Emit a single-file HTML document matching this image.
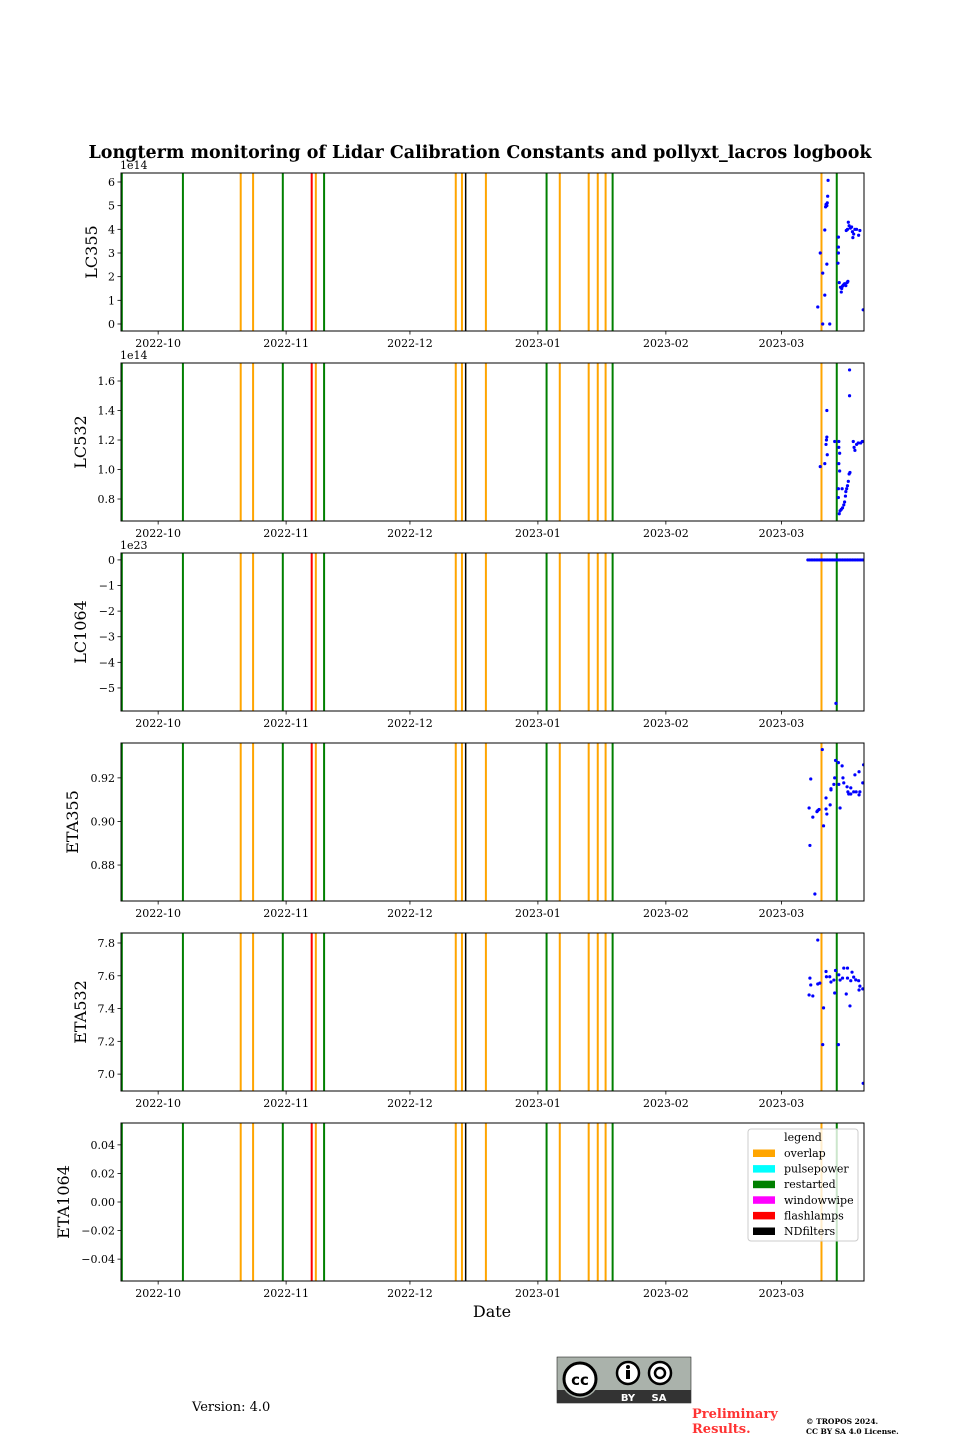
<!DOCTYPE html>
<html><head><meta charset="utf-8"><style>
html,body{margin:0;padding:0;background:#fff;}
svg text{font-family:"DejaVu Serif","Liberation Serif",serif;}
</style></head><body>
<svg id="fig" width="960" height="1440" viewBox="0 0 960 1440" xmlns="http://www.w3.org/2000/svg">
<text x="480" y="158" text-anchor="middle" font-size="17.5" font-weight="bold">Longterm monitoring of Lidar Calibration Constants and pollyxt_lacros logbook</text>
<text x="492" y="1317" text-anchor="middle" font-size="16">Date</text>
<text x="192" y="1411" font-size="13">Version: 4.0</text>
<g>
<rect x="557" y="1357" width="134" height="46" fill="#aab2ab" stroke="#000" stroke-width="0.5"/>
<rect x="557" y="1390" width="134" height="13" fill="#333"/>
<circle cx="580" cy="1379" r="19" fill="#aab2ab"/>
<circle cx="580" cy="1379" r="16" fill="#fff" stroke="#000" stroke-width="3"/>
<text x="580" y="1385" text-anchor="middle" font-size="15" font-weight="bold" style="font-family:'DejaVu Sans',sans-serif">cc</text>
<circle cx="628" cy="1373" r="11" fill="#fff" stroke="#000" stroke-width="2.5"/>
<circle cx="628" cy="1367" r="2" fill="#000"/><rect x="626" y="1370" width="4" height="9" fill="#000"/>
<circle cx="660" cy="1373" r="11" fill="#fff" stroke="#000" stroke-width="2.5"/>
<circle cx="660" cy="1373" r="5" fill="none" stroke="#000" stroke-width="2.5"/>
<text x="628" y="1401" text-anchor="middle" font-size="10" font-weight="bold" fill="#fff" style="font-family:'DejaVu Sans',sans-serif">BY</text>
<text x="659" y="1401" text-anchor="middle" font-size="10" font-weight="bold" fill="#fff" style="font-family:'DejaVu Sans',sans-serif">SA</text>
</g>
<text font-size="13" font-weight="bold" fill="#ff3333"><tspan x="692" y="1418">Preliminary</tspan><tspan x="692" y="1433">Results.</tspan></text>
<text font-size="7.5" font-weight="bold"><tspan x="806" y="1424">© TROPOS 2024.</tspan><tspan x="806" y="1434">CC BY SA 4.0 License.</tspan></text>
<g id="panels"></g>
</svg>
<script>
// days since 2022-09-22
const xDomain = [0, 180];
const monthTickDays = [9, 40, 70, 101, 132, 160];
const monthTickLabels = ["2022-10","2022-11","2022-12","2023-01","2023-02","2023-03"];
const overlapDays = [29, 32, 47.2, 81.1, 82.6, 88.4, 106.3, 113.3, 115.5, 117.4, 169.7];
const restartedDays = [0.2, 15, 39.2, 49.2, 103.1, 119.1, 173.4];
const flashlampDays = [46.2];
const ndfilterDays = [83.5];
const legendNames = ["overlap","pulsepower","restarted","windowwipe","flashlamps","NDfilters"];
const legendColors = ["orange","cyan","green","magenta","red","black"];

const lc355Days = [171.3,171.2,170.8,171,171.1,170.7,170.5,169.4,171,170,170.5,168.8,170,171.7,173.8,173.8,173.8,173.7,174,174.3,174.5,174.8,175,175.3,175.6,175.9,176.1,174.6,175.7,176.2,176.4,176.7,177,177.2,177.3,177.5,177.8,178.2,178.7,179,176,179.8];
const lc355Vals = [6.07,5.4,5.05,5.0,5.12,4.95,3.97,3.0,2.53,2.15,1.22,0.72,0,0,3.67,3.25,3.0,2.57,1.75,1.55,1.35,1.6,1.65,1.7,1.62,1.75,1.8,1.5,3.95,4.3,4.15,4.05,4.1,3.9,3.65,3.8,4.0,4.0,3.75,3.95,4.0,0.6];
const lc532Days = [176.5,176.5,171,170.8,170.9,171,171.1,169.4,170.5,172.9,173.9,173.9,174.1,173.9,174.1,174,174.2,174.5,174.8,175.1,175.3,175.5,175.6,175.8,176,176.2,176.4,176.6,173.8,173.8,174.7,177.4,177.6,177.8,178.2,178.6,179.2,179.6];
const lc532Vals = [1.675,1.50,1.40,1.17,1.2,1.22,1.10,1.02,1.04,1.19,1.19,1.15,1.11,1.04,0.99,0.70,0.72,0.73,0.74,0.76,0.78,0.82,0.85,0.87,0.89,0.92,0.97,0.98,0.87,0.81,0.87,1.19,1.15,1.13,1.17,1.18,1.18,1.19];
const lc1064Days = [166.4,166.8,167.2,167.6,168,168.4,168.8,169.2,169.6,170,170.4,170.8,171.2,171.6,172,172.4,172.8,173.2,173.6,174,174.4,174.8,175.2,175.6,176,176.4,176.8,177.2,177.6,178,178.4,178.8,179.2,179.6,180,173.2];
const lc1064Vals = [0,0,0,0,0,0,0,0,0,0,0,0,0,0,0,0,0,0,0,0,0,0,0,0,0,0,0,0,0,0,0,0,0,0,0,-5.6];
const eta355Days = [169.9,173.1,173.8,174.7,167.1,172.9,174.9,177.8,178.8,179.9,172.7,173.9,175.1,179.7,175.9,176.8,172,172,176.1,177.5,178.1,179,176.3,176.8,178.8,170.8,171.8,170.8,174.2,166.7,168.8,168.6,169.1,171,167.6,170.2,166.9,168.1];
const eta355Vals = [0.933,0.928,0.927,0.9255,0.9195,0.920,0.920,0.9214,0.9228,0.926,0.917,0.917,0.9177,0.9177,0.9159,0.9154,0.915,0.9145,0.9136,0.9136,0.9136,0.9136,0.9126,0.9126,0.9122,0.9108,0.9076,0.9057,0.9062,0.9062,0.905,0.9045,0.9055,0.9034,0.902,0.898,0.889,0.8667];
const eta532Days = [168.8,175.1,176,170.8,177.1,173.1,173.9,170.9,171.7,166.9,174.8,176,177.5,172.7,174.2,172,176.8,178,178.7,167.1,168.8,169.3,179,179.7,178.8,172.9,175.7,166.7,167.6,176.6,170.2,170,173.8,179.8];
const eta532Vals = [7.818,7.647,7.647,7.626,7.622,7.632,7.606,7.594,7.594,7.586,7.586,7.586,7.592,7.574,7.574,7.562,7.57,7.575,7.57,7.544,7.55,7.555,7.537,7.52,7.513,7.495,7.489,7.483,7.477,7.416,7.404,7.18,7.18,6.944];
const eta1064Days = [];
const eta1064Vals = [];

const panels = [
 {name:"lc355", label:"LC355", top:173, dom:[-0.296,6.38], ticks:[0,1,2,3,4,5,6], fmt:v=>String(v), exp:"1e14", lx:97, days:lc355Days, vals:lc355Vals},
 {name:"lc532", label:"LC532", top:363, dom:[0.651,1.722], ticks:[0.8,1.0,1.2,1.4,1.6], fmt:v=>v.toFixed(1), exp:"1e14", lx:86, days:lc532Days, vals:lc532Vals},
 {name:"lc1064", label:"LC1064", top:553, dom:[-5.9,0.27], ticks:[0,-1,-2,-3,-4,-5], fmt:v=>v===0?"0":"\u2212"+Math.abs(v), exp:"1e23", lx:86, days:lc1064Days, vals:lc1064Vals},
 {name:"eta355", label:"ETA355", top:743, dom:[0.8635,0.936], ticks:[0.88,0.90,0.92], fmt:v=>v.toFixed(2), exp:"", lx:78, days:eta355Days, vals:eta355Vals},
 {name:"eta532", label:"ETA532", top:933, dom:[6.897,7.861], ticks:[7.0,7.2,7.4,7.6,7.8], fmt:v=>v.toFixed(1), exp:"", lx:86, days:eta532Days, vals:eta532Vals},
 {name:"eta1064", label:"ETA1064", top:1123, dom:[-0.0553,0.0553], ticks:[-0.04,-0.02,0,0.02,0.04], fmt:v=>(v<0?"\u2212":"")+Math.abs(v).toFixed(2), exp:"", lx:69, days:eta1064Days, vals:eta1064Vals}
];
const L=121, R=864, H=158;
const NS="http://www.w3.org/2000/svg";
function mk(tag, attrs, parent, txt){const e=document.createElementNS(NS,tag);for(const k in attrs)e.setAttribute(k,attrs[k]);if(txt!==undefined)e.textContent=txt;parent.appendChild(e);return e;}
function xs(d){return L+(d-xDomain[0])/(xDomain[1]-xDomain[0])*(R-L);}
const root=document.getElementById("panels");
panels.forEach((p,pi)=>{
 const ys=v=>p.top+H-(v-p.dom[0])/(p.dom[1]-p.dom[0])*H;
 const g=mk("g",{},root);
 
 
 const cid="clip"+pi;
 const cp=mk("clipPath",{id:cid},g); mk("rect",{x:L,y:p.top,width:R-L,height:H},cp);
 const inner=mk("g",{"clip-path":"url(#"+cid+")"},g);
 const groups=[[overlapDays,"orange","overlap",2],[restartedDays,"green","restarted",2],[flashlampDays,"red","flashlamps",2],[ndfilterDays,"black","ndfilters",1.5]];
 groups.forEach(([arr,col,nm,w])=>arr.forEach(d=>{
  const ln=mk("line",{x1:xs(d),x2:xs(d),y1:p.top,y2:p.top+H,stroke:col,"stroke-width":w},inner);
  
  
 }));
 p.days.forEach((d,i)=>{
  const c=mk("circle",{cx:xs(d),cy:ys(p.vals[i]),r:1.6,fill:"blue"},inner);
  
  
 });
 const fr=mk("rect",{x:L,y:p.top,width:R-L,height:H,fill:"none",stroke:"#000","stroke-width":1},g);
 
 
 monthTickDays.forEach((d,i)=>{
  const x=xs(d);
  mk("line",{x1:x,x2:x,y1:p.top+H,y2:p.top+H+3.5,stroke:"#000","stroke-width":0.8},g);
  const t=mk("text",{x:x,y:p.top+H+16,"text-anchor":"middle","font-size":11},g,monthTickLabels[i]);
  
  
 });
 p.ticks.forEach(v=>{
  const y=ys(v);
  mk("line",{x1:L-3.5,x2:L,y1:y,y2:y,stroke:"#000","stroke-width":0.8},g);
  const t=mk("text",{x:L-6,y:y+4,"text-anchor":"end","font-size":11},g,p.fmt(v));
  
  
 });
 if(p.exp){const t=mk("text",{x:L-1,y:p.top-4,"font-size":11},g,p.exp);
  
  }
 const yl=mk("text",{x:p.lx,y:p.top+H/2,"text-anchor":"middle","font-size":16,transform:"rotate(-90 "+p.lx+" "+(p.top+H/2)+")"},g,p.label);
 
 
});
// legend
const lg=mk("g",{},root);


mk("rect",{x:748,y:1129,width:110,height:112,rx:3,fill:"rgba(255,255,255,0.8)",stroke:"#ccc","stroke-width":1},lg);
mk("text",{x:803,y:1141,"text-anchor":"middle","font-size":11},lg,"legend");
legendNames.forEach((n,i)=>{
 const y=1153+i*15.6;
 const e=mk("g",{},lg);
 
 
 mk("rect",{x:753,y:y-3.5,width:22,height:7.5,fill:legendColors[i]},e);
 mk("text",{x:784,y:y+4,"font-size":11},e,n);
});
</script>
</body></html>
